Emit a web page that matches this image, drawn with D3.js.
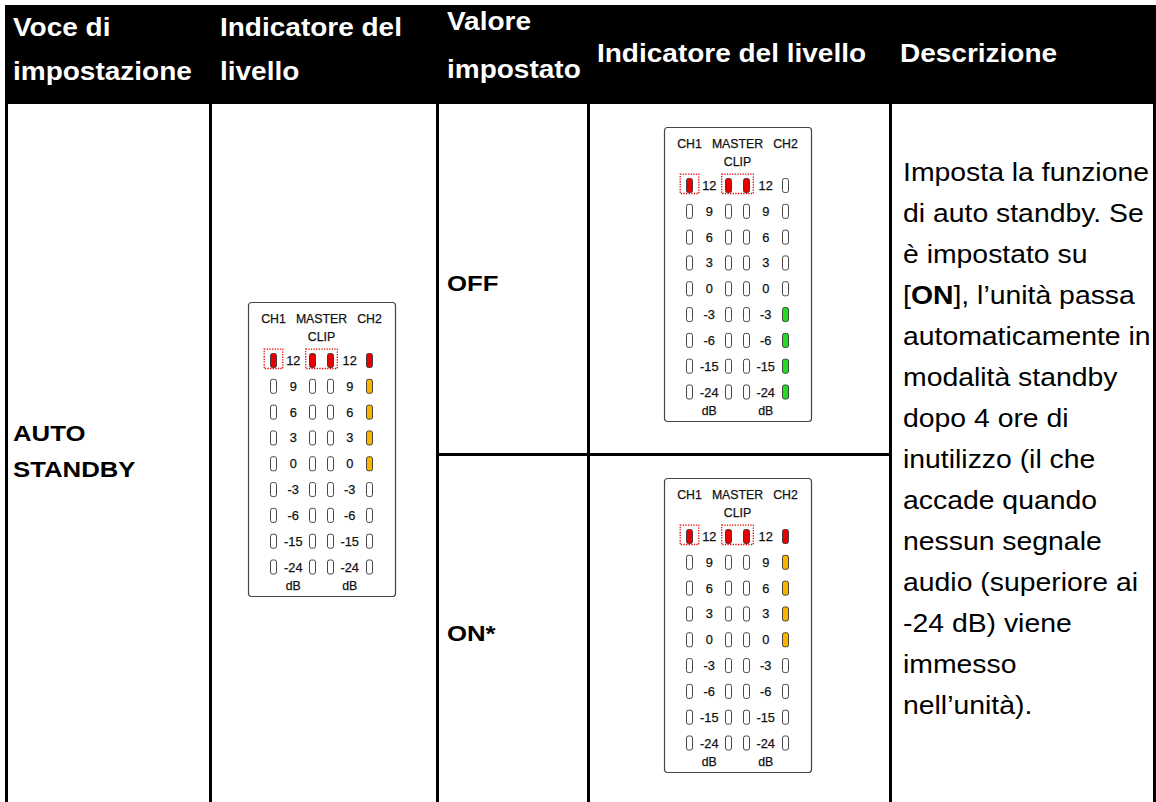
<!DOCTYPE html>
<html>
<head>
<meta charset="utf-8">
<script src="https://cdn.jsdelivr.net/npm/d3@7/dist/d3.min.js"></script>
<style>
html,body{margin:0;padding:0;background:#fff;}
svg{display:block;}
text{font-family:"Liberation Sans",Arial,sans-serif;}
</style>
</head>
<body>
<svg id="chart" width="1156" height="802"></svg>
<script>
// ---------- data ----------
const headerLabels = [
  ["Voce di", "impostazione"],
  ["Indicatore del", "livello"],
  ["Valore", "impostato"],
  ["Indicatore del livello"],
  ["Descrizione"]
];
const settingItem = ["AUTO", "STANDBY"];
const settingValues = ["OFF", "ON*"];
const levels = ["12", "9", "6", "3", "0", "-3", "-6", "-15", "-24"];
const meterColumns = ["CH1", "MASTER L", "MASTER R", "CH2"];
const meterHeads = ["CH1", "MASTER", "CH2"];
// LED state per level, per column
const clipOnly = ["red", "off", "off", "off", "off", "off", "off", "off", "off"];
const ch2Default = ["red", "yellow", "yellow", "yellow", "yellow", "off", "off", "off", "off"];
const ch2Off = ["off", "off", "off", "off", "off", "green", "green", "green", "green"];
const ch2On = ["red", "yellow", "yellow", "yellow", "yellow", "off", "off", "off", "off"];
const descriptionLines = [
  [["Imposta la funzione", false]],
  [["di auto standby. Se", false]],
  [["è impostato su", false]],
  [["[", false], ["ON", true], ["], l’unità passa", false]],
  [["automaticamente in", false]],
  [["modalità standby", false]],
  [["dopo 4 ore di", false]],
  [["inutilizzo (il che", false]],
  [["accade quando", false]],
  [["nessun segnale", false]],
  [["audio (superiore ai", false]],
  [["-24 dB) viene", false]],
  [["immesso", false]],
  [["nell’unità).", false]]
];

// ---------- layout ----------
const W = 1156, H = 802;
const svg = d3.select("#chart");
const SX = 1.12; // horizontal stretch of text
const colEdges = [6.5, 210.5, 437.5, 588.5, 890.5, 1154.5];
const headerTop = 5, headerBottom = 104;
const rowSplit = 454.5;
const lineW = 3;

function stretchedText(g, x, y, str, opts) {
  const t = g.append("g").attr("transform", `translate(${x},${y}) scale(${opts.sx || SX},1)`)
    .append("text")
    .attr("x", 0).attr("y", 0)
    .attr("font-size", opts.size)
    .attr("font-weight", opts.weight || "normal")
    .attr("fill", opts.fill || "#000")
    .attr("text-anchor", opts.anchor || "start")
    .text(str);
  return t;
}

// header band
svg.append("rect").attr("x", 5).attr("y", headerTop).attr("width", W - 5).attr("height", headerBottom - headerTop).attr("fill", "#000");

// vertical borders
svg.selectAll("line.v").data(colEdges).enter().append("line")
  .attr("class", "v")
  .attr("x1", d => d).attr("x2", d => d)
  .attr("y1", headerBottom - 1).attr("y2", H)
  .attr("stroke", "#000").attr("stroke-width", lineW);
// row split line (cols 3-4)
svg.append("line").attr("x1", colEdges[2] - 1.5).attr("x2", colEdges[4] + 1.5)
  .attr("y1", rowSplit).attr("y2", rowSplit)
  .attr("stroke", "#000").attr("stroke-width", lineW);

// header text
const hdr = svg.append("g");
const headerX = [13, 220, 447, 597, 900];
const headerY = [[36, 80], [36, 80], [30, 78], [62], [62]];
headerLabels.forEach((lines, i) => {
  lines.forEach((s, j) => {
    stretchedText(hdr, headerX[i], headerY[i][j], s, {size: 25, weight: "bold", fill: "#fff"});
  });
});

// body labels
const body = svg.append("g");
stretchedText(body, 13, 441, settingItem[0], {size: 23, weight: "bold"});
stretchedText(body, 13, 477, settingItem[1], {size: 23, weight: "bold"});
stretchedText(body, 447, 291, settingValues[0], {size: 23, weight: "bold"});
stretchedText(body, 447, 641, settingValues[1], {size: 23, weight: "bold"});

// description
const desc = svg.append("g");
const descY = d3.scaleLinear().domain([0, descriptionLines.length - 1]).range([181, 714]);
descriptionLines.forEach((parts, i) => {
  const t = desc.append("g").attr("transform", `translate(903,${descY(i)}) scale(1.135,1)`)
    .append("text").attr("font-size", 25).attr("fill", "#000");
  parts.forEach(p => {
    t.append("tspan").attr("font-weight", p[1] ? "bold" : "normal").text(p[0]);
  });
});

// ---------- meters ----------
const PW = 148, PH = 295;
const ledColor = d3.scaleOrdinal()
  .domain(["off", "red", "yellow", "green"])
  .range(["#ffffff", "#e60000", "#f7b500", "#22dd22"]);
const xCol = d3.scaleOrdinal().domain(meterColumns).range([25.5, 64.5, 82.5, 121.5]);
const xLabel = [45.3, 101.7];
const yRow = d3.scalePoint().domain(levels).range([58.5, 265]);

function mText(g, x, y, s, size) {
  return g.append("text").attr("x", x).attr("y", y).attr("text-anchor", "middle")
    .attr("font-size", size).attr("fill", "#111")
    .attr("stroke", "#111").attr("stroke-width", 0.25)
    .text(s);
}

function drawMeter(x0, y0, states) {
  const g = svg.append("g").attr("transform", `translate(${x0},${y0})`);
  g.append("rect").attr("x", 0.5).attr("y", 0.5).attr("width", PW - 1).attr("height", PH - 1)
    .attr("rx", 3).attr("fill", "#fff").attr("stroke", "#444").attr("stroke-width", 1.2);
  const headX = [xCol("CH1"), (xCol("MASTER L") + xCol("MASTER R")) / 2, xCol("CH2")];
  meterHeads.forEach((h, i) => mText(g, headX[i], 21, h, 12.3));
  mText(g, headX[1], 38.5, "CLIP", 12.3);
  // level labels
  xLabel.forEach(lx => {
    g.selectAll(null).data(levels).enter().append("text")
      .attr("x", lx).attr("y", d => yRow(d) + 4.5)
      .attr("text-anchor", "middle").attr("font-size", 12.8).attr("fill", "#111")
      .attr("stroke", "#111").attr("stroke-width", 0.25)
      .text(d => d);
    mText(g, lx, 288, "dB", 12.3);
  });
  // LEDs
  meterColumns.forEach(c => {
    const st = states[c];
    g.selectAll(null).data(levels).enter().append("rect")
      .attr("x", xCol(c) - 3).attr("y", d => yRow(d) - 7)
      .attr("width", 6).attr("height", 14).attr("rx", 2)
      .attr("fill", (d, i) => ledColor(st[i]))
      .attr("stroke", "#333").attr("stroke-width", 0.9);
  });
  // dotted clip boxes
  const y12 = yRow("12");
  g.append("rect").attr("x", xCol("CH1") - 9.3).attr("y", y12 - 11.3)
    .attr("width", 18.6).attr("height", 19.3)
    .attr("fill", "none").attr("stroke", "#e60000").attr("stroke-width", 1.3).attr("stroke-dasharray", "1.3,1.3");
  g.append("rect").attr("x", xCol("MASTER L") - 6.8).attr("y", y12 - 11.3)
    .attr("width", xCol("MASTER R") - xCol("MASTER L") + 13.6).attr("height", 19.3)
    .attr("fill", "none").attr("stroke", "#e60000").attr("stroke-width", 1.3).attr("stroke-dasharray", "1.3,1.3");
}

drawMeter(248, 302, {"CH1": clipOnly, "MASTER L": clipOnly, "MASTER R": clipOnly, "CH2": ch2Default});
drawMeter(664, 127, {"CH1": clipOnly, "MASTER L": clipOnly, "MASTER R": clipOnly, "CH2": ch2Off});
drawMeter(664, 478, {"CH1": clipOnly, "MASTER L": clipOnly, "MASTER R": clipOnly, "CH2": ch2On});
</script>
</body>
</html>
